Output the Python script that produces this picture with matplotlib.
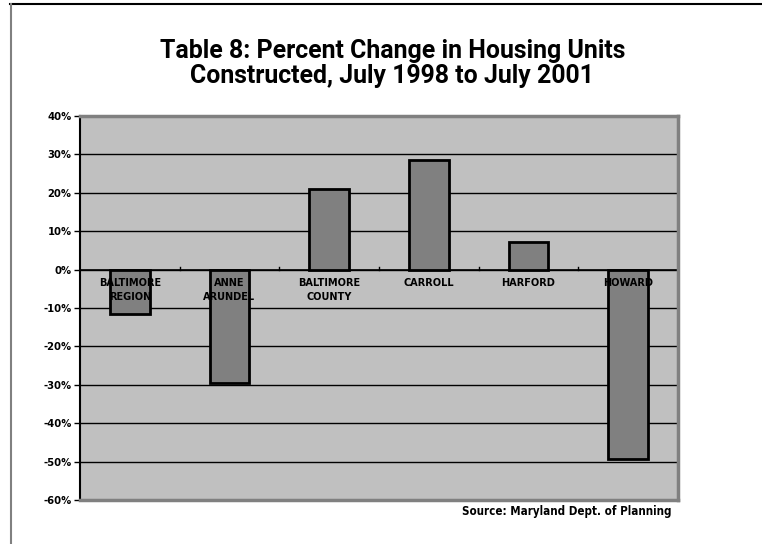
import numpy as np
import matplotlib.pyplot as plt
from matplotlib import font_manager
from matplotlib.lines import Line2D

# data
categories = ['BALTIMORE\nREGION', 'ANNE\nARUNDEL', 'BALTIMORE\nCOUNTY',
              'CARROLL', 'HARFORD', 'HOWARD']
pct_change = [-11.5, -29.6, 21.0, 28.5, 7.2, -49.3]
yticks = [40, 30, 20, 10, 0, -10, -20, -30, -40, -50, -60]

# a narrow bold face is closest to the original's Futura-like type
fonts = font_manager.fontManager.ttflist
has_cond = any(f.name == 'DejaVu Sans' and f.stretch == 'condensed' for f in fonts)
stretch = 'condensed' if has_cond else 'normal'
plt.rcParams['font.family'] = ['DejaVu Sans']
plt.rcParams['font.stretch'] = stretch

fig = plt.figure(figsize=(7.62, 5.44), dpi=100)
ax = fig.add_axes([80 / 762, 1 - 500 / 544, 598 / 762, 384 / 544])

x = np.arange(len(categories))
ax.set_facecolor('#c0c0c0')
ax.bar(x, pct_change, width=0.4, color='#808080', edgecolor='black',
       linewidth=2, zorder=3)

ax.set_ylim(-60, 40)
ax.set_xlim(-0.5, len(categories) - 0.5)
ax.set_yticks(yticks)
ax.set_yticklabels(['%d%%' % v for v in yticks], fontsize=8, fontweight='bold')
ax.yaxis.grid(True, color='black', linewidth=1)
ax.set_axisbelow(True)
ax.tick_params(axis='y', length=4, width=1, pad=2)

# category axis sits at 0%
ax.set_xticks([])
for t in np.arange(0.5, len(categories) - 0.5, 1):
    ax.plot([t, t], [0, 0.8], color='black', linewidth=1, zorder=2)
ax.axhline(0, color='black', linewidth=1.2, zorder=2)
for xi, lab in zip(x, categories):
    ax.text(xi, -2.2, lab, ha='center', va='top', fontsize=7.8,
            fontweight='bold', linespacing=1.45, zorder=4)

for side in ['top', 'right', 'bottom']:
    ax.spines[side].set_color('#808080')
    ax.spines[side].set_linewidth(2.5)
ax.spines['left'].set_color('black')
ax.spines['left'].set_linewidth(1.5)

title = fig.text(0.515, 1 - 39 / 544, 'Table 8: Percent Change in Housing Units\nConstructed, July 1998 to July 2001',
                 ha='center', va='top', fontsize=18, fontweight='bold', linespacing=1.05,
                 family=['Roboto', 'DejaVu Sans'], stretch='normal')
# shrink the title until it is about as wide as the original
fig.canvas.draw()
w = title.get_window_extent().width
if w > 465:
    title.set_fontsize(18 * 465 / w)
fig.text(672 / 762, 1 - 511 / 544, 'Source: Maryland Dept. of Planning',
         ha='right', va='center', fontsize=8.3, fontweight='bold')

# frame lines of the original screenshot
fig.add_artist(Line2D([10 / 762, 1], [1 - 4 / 544, 1 - 4 / 544],
                      transform=fig.transFigure, color='black', linewidth=1.5))
fig.add_artist(Line2D([11 / 762, 11 / 762], [0, 1 - 4 / 544],
                      transform=fig.transFigure, color='#808080', linewidth=1.5))

fig.savefig('out.png', dpi=100)
